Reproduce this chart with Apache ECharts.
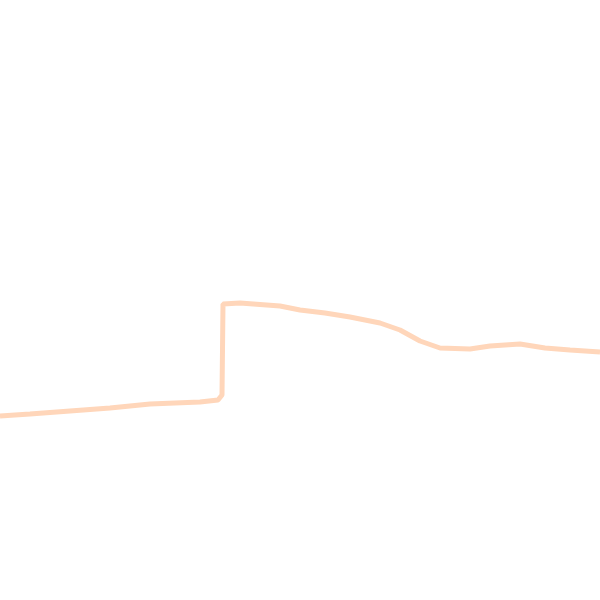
<!DOCTYPE html>
<html lang="en">
<head>
    <meta charset="utf-8">
    <title>ECharts</title>
    <script src="https://cdn.jsdelivr.net/npm/echarts@6/dist/echarts.min.js"></script>
    <style>
        html, body { margin: 0; padding: 0; background: #ffffff; }
    </style>
</head>
<body>
<div id="main" style="width:600px;height:600px;"></div>
<script type="text/javascript">
    // x positions and levels
    var xs = [0, 30, 70, 110, 150, 200, 218, 222, 223, 240, 280, 300, 325, 350, 380, 400, 420, 440, 470, 490, 520, 545, 570, 600];
    var levels = [184, 186, 189, 192, 196, 198, 200, 205, 296, 297, 294, 290, 287, 283, 277, 270, 259, 252, 251, 254, 256, 252, 250, 248];

    var points = xs.map(function (x, i) {
        return [x, levels[i]];
    });

    var myChart = echarts.init(document.getElementById('main'));
    myChart.setOption({
        backgroundColor: '#ffffff',
        animation: false,
        grid: { left: 0, right: 0, top: 0, bottom: 0 },
        xAxis: {
            type: 'value',
            min: 0,
            max: 600,
            show: false
        },
        yAxis: {
            type: 'value',
            min: 0,
            max: 600,
            show: false
        },
        series: [{
            type: 'line',
            data: points,
            showSymbol: false,
            lineStyle: {
                color: '#ffd6ba',
                width: 5
            }
        }]
    });
</script>
</body>
</html>
